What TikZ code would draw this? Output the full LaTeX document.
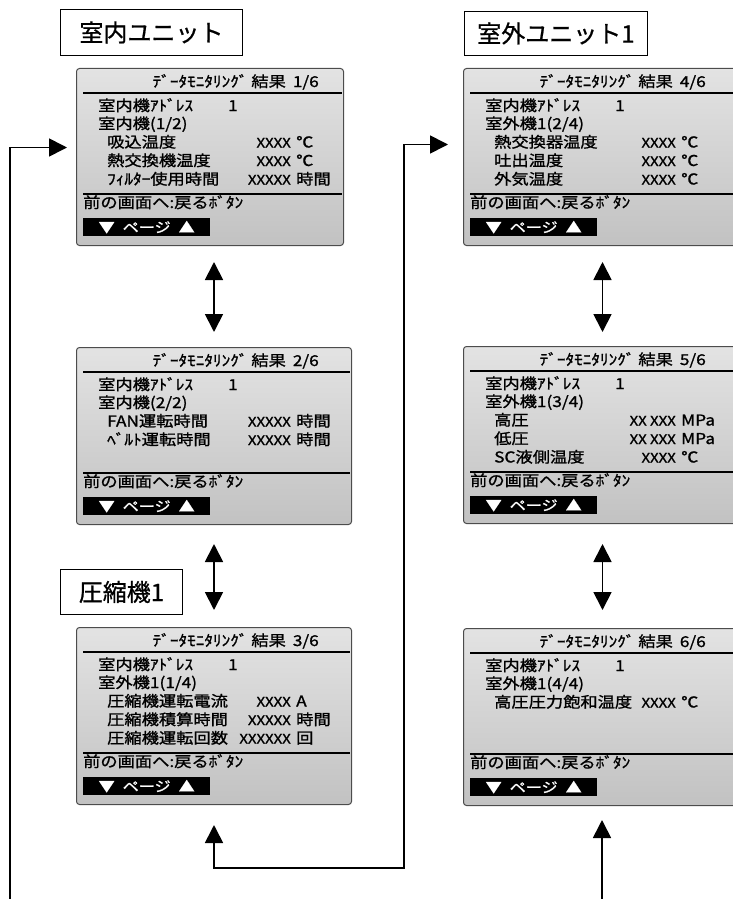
\documentclass[tikz,border=0pt]{standalone}
\usepackage{fontspec}
\setmainfont{Noto Sans CJK JP}
\newfontfamily\lcdfont[FakeStretch=1.15, FakeBold=1.2]{Noto Sans CJK JP}
\newfontfamily\labelfont[FakeBold=0.8]{Noto Sans CJK JP}
\usetikzlibrary{
	arrows.meta,
	positioning
}

% common parts of one monitor screen: name, width, page, unit line
\newcommand{\lcdframe}[4]{%
	\node[lcdtext, anchor=east] (#1title) at (243,15) {ﾃﾞｰﾀﾓﾆﾀﾘﾝｸﾞ 結果\hspace{7pt}#3};
	\draw[lcdrule] (7,25) -- ({#2-1},25);
	\node[lcdtext] (#1addr) at (22,39) {室内機ｱﾄﾞﾚｽ};
	\node[lcdtext, anchor=center] (#1addrno) at (157,39) {1};
	\node[lcdtext] (#1sub) at (22,57) {#4};
	\draw[lcdrule] (7,126) -- ({#2-1},126);
	\node[lcdtext] (#1back) at (7,136) {前の画面へ:戻るﾎﾞﾀﾝ};
	\node[pagebtn] (#1page) at (7,150) {▼\hspace{8pt}ページ\hspace{8pt}▲};
}

\begin{document}
\begin{tikzpicture}[
				x=1pt, y=-1pt,
				>={Triangle[length=18pt,width=18pt]},
				lcdscreen/.style={
					rectangle, rounded corners=3pt, draw=black!70, line width=1pt,
					top color=black!11, bottom color=black!24,
					inner sep=0pt, minimum height=177pt, anchor=north west
				},
				lcdtext/.style={
					font=\lcdfont\fontsize{15}{15}\selectfont,
					inner sep=0pt, text height=11pt, text depth=3pt, anchor=west
				},
				xfield/.style={
					lcdtext, font=\lcdfont\fontsize{13}{13}\selectfont, anchor=east
				},
				lcdrule/.style={line width=2pt},
				pagebtn/.style={
					rectangle, fill=black, text=white, anchor=north west,
					minimum width=127pt, minimum height=18pt, inner sep=0pt,
					font=\lcdfont\fontsize{14}{14}\selectfont
				},
				unitlabel/.style={
					rectangle, draw, line width=0.9pt, fill=white, inner sep=0pt,
					anchor=north west, font=\labelfont\fontsize{24}{24}\selectfont
				},
				updown/.style={<->, line width=1.8pt},
				backline/.style={line width=1.7pt}
				]
				
				\useasboundingbox (0,0) rectangle (733,899);
				\clip (0,0) rectangle (733,899);
				
				% unit labels
				\node[unitlabel, minimum width=182pt, minimum height=46pt] (lblIndoor) at (60,9) {室内ユニット};
				\node[unitlabel, minimum width=183pt, minimum height=44pt] (lblOutdoor) at (464,11) {室外ユニット1};
				\node[unitlabel, minimum width=122pt, minimum height=45pt] (lblComp) at (60,569) {圧縮機1};
				
				% screens
				\node[lcdscreen, minimum width=267pt] (scr1) at (76,68) {};
				\node[lcdscreen, minimum width=275pt] (scr2) at (76,347) {};
				\node[lcdscreen, minimum width=275pt] (scr3) at (76,627) {};
				\node[lcdscreen, minimum width=278pt] (scr4) at (463,68) {};
				\node[lcdscreen, minimum width=278pt] (scr5) at (463,346) {};
				\node[lcdscreen, minimum width=278pt] (scr6) at (463,628) {};
				
				% screen 1/6
				\begin{scope}[shift={(scr1.north west)}]
					\lcdframe{s1}{267}{1/6}{室内機(1/2)}
					\foreach \lab/\val/\unit [count=\i] in {吸込温度/XXXX/℃, 熱交換機温度/XXXX/℃, ﾌｨﾙﾀｰ使用時間/XXXXX/時間}{
						\node[lcdtext] (s1row\i) at (31,{57+18.5*\i}) {\lab};
						\node[xfield] (s1val\i) at (215,{57+18.5*\i}) {\val};
						\node[lcdtext, right=5pt of s1val\i] (s1unit\i) {\unit};
					}
				\end{scope}
				
				% screen 2/6
				\begin{scope}[shift={(scr2.north west)}]
					\lcdframe{s2}{275}{2/6}{室内機(2/2)}
					\foreach \lab/\val/\unit [count=\i] in {FAN運転時間/XXXXX/時間, ﾍﾞﾙﾄ運転時間/XXXXX/時間}{
						\node[lcdtext] (s2row\i) at (31,{57+18.5*\i}) {\lab};
						\node[xfield] (s2val\i) at (215,{57+18.5*\i}) {\val};
						\node[lcdtext, right=5pt of s2val\i] (s2unit\i) {\unit};
					}
				\end{scope}
				
				% screen 3/6
				\begin{scope}[shift={(scr3.north west)}]
					\lcdframe{s3}{275}{3/6}{室外機1(1/4)}
					\foreach \lab/\val/\unit [count=\i] in {圧縮機運転電流/XXXX/A, 圧縮機積算時間/XXXXX/時間, 圧縮機運転回数/XXXXXX/回}{
						\node[lcdtext] (s3row\i) at (31,{57+18.5*\i}) {\lab};
						\node[xfield] (s3val\i) at (215,{57+18.5*\i}) {\val};
						\node[lcdtext, right=5pt of s3val\i] (s3unit\i) {\unit};
					}
				\end{scope}
				
				% screen 4/6
				\begin{scope}[shift={(scr4.north west)}]
					\lcdframe{s4}{278}{4/6}{室外機1(2/4)}
					\foreach \lab/\val/\unit [count=\i] in {熱交換器温度/XXXX/℃, 吐出温度/XXXX/℃, 外気温度/XXXX/℃}{
						\node[lcdtext] (s4row\i) at (31,{57+18.5*\i}) {\lab};
						\node[xfield] (s4val\i) at (213,{57+18.5*\i}) {\val};
						\node[lcdtext, right=5pt of s4val\i] (s4unit\i) {\unit};
					}
				\end{scope}
				
				% screen 5/6
				\begin{scope}[shift={(scr5.north west)}]
					\lcdframe{s5}{278}{5/6}{室外機1(3/4)}
					\foreach \lab/\val/\unit [count=\i] in {高圧/XX XXX/MPa, 低圧/XX XXX/MPa, SC液側温度/XXXX/℃}{
						\node[lcdtext] (s5row\i) at (31,{57+18.5*\i}) {\lab};
						\node[xfield] (s5val\i) at (213,{57+18.5*\i}) {\val};
						\node[lcdtext, right=5pt of s5val\i] (s5unit\i) {\unit};
					}
				\end{scope}
				
				% screen 6/6
				\begin{scope}[shift={(scr6.north west)}]
					\lcdframe{s6}{278}{6/6}{室外機1(4/4)}
					\foreach \lab/\val/\unit [count=\i] in {高圧圧力飽和温度/XXXX/℃}{
						\node[lcdtext] (s6row\i) at (31,{57+18.5*\i}) {\lab};
						\node[xfield] (s6val\i) at (213,{57+18.5*\i}) {\val};
						\node[lcdtext, right=5pt of s6val\i] (s6unit\i) {\unit};
					}
				\end{scope}
				
				% page arrows
				\draw[updown, shorten <=16pt, shorten >=15pt] (scr1.south -| scr2.north) -- (scr2.north);
				\draw[updown, shorten <=19pt, shorten >=17pt] (scr2.south) -- (scr3.north);
				\draw[updown, shorten <=16pt, shorten >=14pt] (scr4.south) -- (scr5.north);
				\draw[updown, shorten <=20pt, shorten >=18pt] (scr5.south) -- (scr6.north);
				
				% return lines
				\coordinate (loopL) at (10,899);
				\coordinate (bendA) at (404,868);
				\coordinate (loopR) at (602,899);
				\draw[backline, ->, shorten >=9pt] (loopL) |- ([yshift=9.5pt]scr1.west);
				\draw[backline, <->, shorten <=20pt, shorten >=15pt] (scr3.south) |- (bendA) |- ([yshift=12.5pt]scr4.west);
				\draw[backline, ->, shorten >=14pt] (loopR) -- (loopR |- scr6.south);
			\end{tikzpicture}
\end{document}
